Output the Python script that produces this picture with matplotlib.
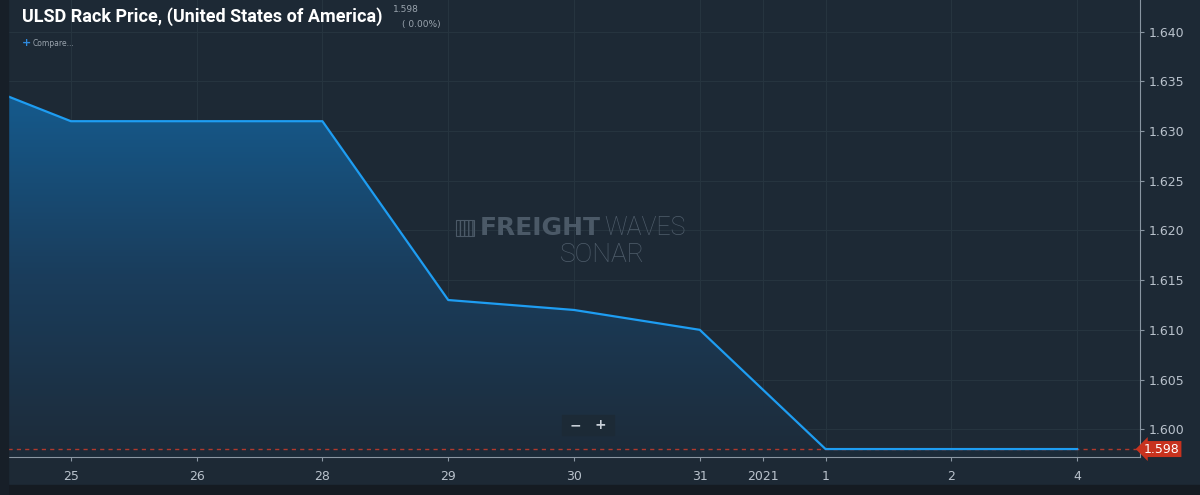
import numpy as np
import matplotlib.pyplot as plt
from matplotlib.patches import Polygon
from matplotlib.colors import LinearSegmentedColormap

# trading days shown on the axis (categorical positions)
day_labels = ['25', '26', '28', '29', '30', '31', '1', '2', '4']
day_pos = [0, 1, 2, 3, 4, 5, 6, 7, 8]
year_label = '2021'
year_pos = 5.5

# price series (first point is Dec 24, partly off the left edge)
x_vals = [-1, 0, 1, 2, 3, 4, 5, 6, 7, 8]
prices = [1.636, 1.631, 1.631, 1.631, 1.613, 1.612, 1.610, 1.598, 1.598, 1.598]
last_price = 1.598
y_ticks = [1.600, 1.605, 1.610, 1.615, 1.620, 1.625, 1.630, 1.635, 1.640]

bg = '#1d2935'
fig = plt.figure(figsize=(12, 4.95), dpi=100, facecolor=bg)
ax = fig.add_axes([8/1200, 38/495, 1132/1200, 457/495])
ax.set_facecolor(bg)

ymin, ymax = 1.5972, 1.6432
xmin, xmax = -0.5, 8.5
ax.set_xlim(xmin, xmax)
ax.set_ylim(ymin, ymax)

# darker bands outside the chart
fig.patches.append(plt.Rectangle((0, 0), 1, 10/495, transform=fig.transFigure,
                                 color='#151b22', zorder=0))
fig.patches.append(plt.Rectangle((0, 0), 8/1200, 1, transform=fig.transFigure,
                                 color='#171f28', zorder=0))

# grid
for p in day_pos + [year_pos]:
    ax.axvline(p, color='#26343f', lw=0.8, zorder=1)
for t in y_ticks:
    ax.axhline(t, color='#26343f', lw=0.8, zorder=1)

# gradient area under the line
cmap = LinearSegmentedColormap.from_list('fw', ['#1d2b39', '#1a3d5c', '#155b8e'])
grad = np.linspace(0, 1, 256).reshape(-1, 1)
img = ax.imshow(grad, cmap=cmap, aspect='auto', origin='lower',
                extent=[xmin - 1, xmax, ymin, 1.634], zorder=2)
verts = list(zip(x_vals, prices)) + [(x_vals[-1], ymin), (x_vals[0], ymin)]
poly = Polygon(verts, closed=True, facecolor='none', edgecolor='none')
ax.add_patch(poly)
img.set_clip_path(poly)

ax.plot(x_vals, prices, color='#1e9df2', lw=1.6, zorder=4)

# last price line
ax.axhline(last_price, color='#b0392c', lw=1.0, ls=(0, (3, 3)), zorder=3)

# axes styling
for s in ['top', 'left']:
    ax.spines[s].set_visible(False)
ax.spines['right'].set_color('#8a96a2')
ax.spines['bottom'].set_color('#8a96a2')
ax.yaxis.tick_right()
ax.set_yticks(y_ticks)
ax.set_yticklabels([f'{t:.3f}' for t in y_ticks])
ax.set_xticks(day_pos + [year_pos])
ax.set_xticklabels(day_labels + [year_label])
ax.tick_params(axis='both', colors='#8a96a2', labelcolor='#b9c2cc',
               labelsize=9, length=3, width=0.8)
ax.tick_params(axis='x', pad=6)

# price tag on the right axis
ax.annotate(f'{last_price:.3f}', xy=(1.0, last_price), xycoords=('axes fraction', 'data'),
            xytext=(3, 0), textcoords='offset points', ha='left', va='center',
            fontsize=9, color='white', annotation_clip=False,
            bbox=dict(boxstyle='larrow,pad=0.12', fc='#c8321e', ec='none'))

# title block
fig.text(22/1200, 1 - 17/495, 'ULSD Rack Price, (United States of America)',
         fontsize=13, fontweight='bold', color='white', va='center',
         family='Roboto')
fig.text(393/1200, 1 - 9/495, '1.598', fontsize=6.5, color='#9aa4ae', va='center')
fig.text(402/1200, 1 - 24/495, '( 0.00%)', fontsize=6.5, color='#9aa4ae', va='center')
fig.text(22/1200, 1 - 43/495, '+', fontsize=8, color='#2f8be0', va='center',
         fontweight='bold')
fig.text(33/1200, 1 - 43/495, 'Compare...', fontsize=5.5, color='#9aa4ae', va='center')

# watermark
fig.patches.append(plt.Rectangle((456/1200, 1 - 236/495), 18/1200, 16/495,
                                 transform=fig.transFigure, fc='none',
                                 ec='#4b5967', hatch='||||', lw=0.8, zorder=5))
t1 = fig.text(480/1200, 1 - 228/495, 'FREIGHT', fontsize=18, color='#4b5967',
              ha='left', va='center', fontweight='bold', zorder=5)
fig.canvas.draw()
bb = t1.get_window_extent()
fig.text((bb.x1 + 3) / 1200, 1 - 228/495, 'WAVES', fontsize=18, color='#4f5d6b',
         ha='left', va='center', fontweight='light', family='Roboto', zorder=5)
fig.text(602/1200, 1 - 255/495, 'SONAR', fontsize=19, color='#4f5d6b',
         ha='center', va='center', fontweight='light', family='Roboto', zorder=5)

# zoom buttons
fig.patches.append(plt.Rectangle((562/1200, 1 - 435/495), 52/1200, 20/495,
                                 transform=fig.transFigure, color='#1c2a36', zorder=5))
fig.text(575/1200, 1 - 425/495, '\u2212', fontsize=10, color='#c8d0d8',
         ha='center', va='center', fontweight='bold', zorder=6)
fig.text(600/1200, 1 - 425/495, '+', fontsize=10, color='#c8d0d8',
         ha='center', va='center', fontweight='bold', zorder=6)

fig.savefig('out.png', dpi=100, facecolor=bg)
